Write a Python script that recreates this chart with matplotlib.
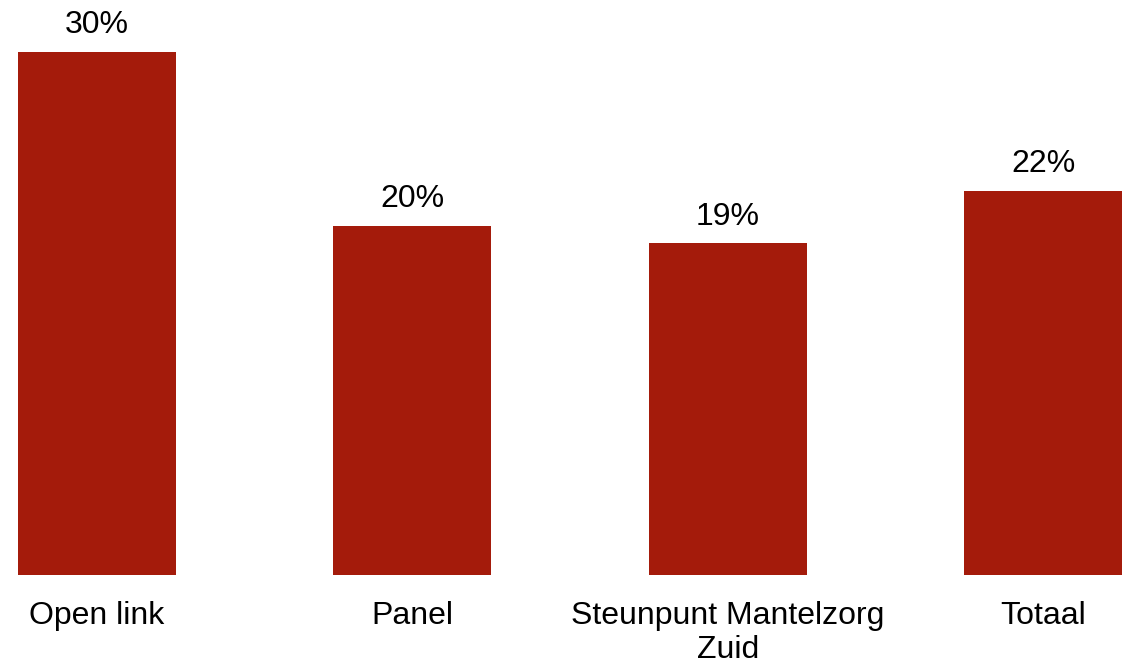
import matplotlib.pyplot as plt
import numpy as np

plt.rcParams['font.family'] = ['Liberation Sans', 'DejaVu Sans']

categories = ['Open link', 'Panel', 'Steunpunt Mantelzorg\nZuid', 'Totaal']
values = [30, 20, 19, 22]
labels = ['30%', '20%', '19%', '22%']

fig = plt.figure(figsize=(11.28, 6.65), dpi=100)
ax = fig.add_axes([18 / 1128, 90 / 665, 1104 / 1128, 575 / 665])

x = np.arange(len(categories))
bars = ax.bar(x, values, width=0.5, color='#A41B0B')

for b, lab in zip(bars, labels):
    ax.annotate(lab, (b.get_x() + b.get_width() / 2, b.get_height()),
                xytext=(0, 13.5), textcoords='offset points',
                ha='center', va='baseline', fontsize=23)

ax.set_xlim(-0.25, 3.25)
ax.set_ylim(0, 575 / 17.45)
ax.set_xticks(x)
ax.set_xticklabels(categories, fontsize=23, linespacing=1.2)
ax.tick_params(axis='x', length=0, pad=18.5)
ax.set_yticks([])
for s in ax.spines.values():
    s.set_visible(False)

plt.savefig('out.png', dpi=100)
